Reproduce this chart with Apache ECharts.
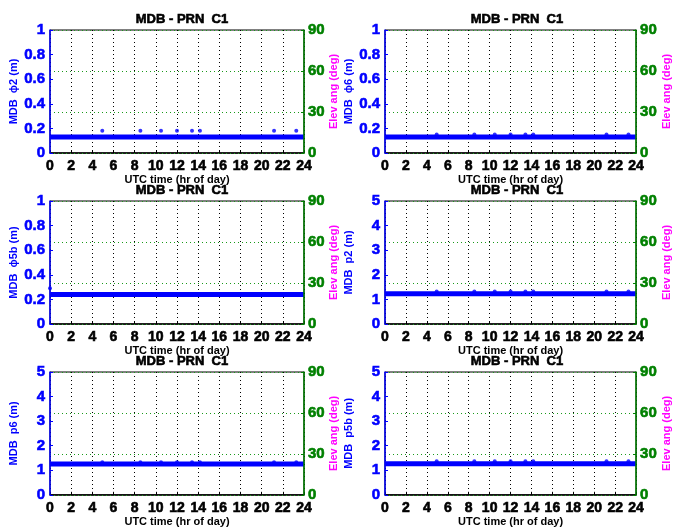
<!DOCTYPE html>
<html>
<head>
<meta charset="utf-8">
<script src="https://cdn.jsdelivr.net/npm/echarts@6/dist/echarts.min.js"></script>
<style>
  html, body { margin: 0; padding: 0; background: #ffffff; }
  #chart { width: 673px; height: 528px; }
</style>
</head>
<body>
<div id="chart"></div>
<script>
  // panel order: row by row, left then right
  var panelNames = ['MDB  \u03d52 (m)', 'MDB  \u03d56 (m)', 'MDB  \u03d55b (m)', 'MDB  p2 (m)', 'MDB  p6 (m)', 'MDB  p5b (m)'];
  var yMax = [1, 1, 1, 5, 5, 5];
  var yStep = [0.2, 0.2, 0.2, 1, 1, 1];
  var hourTicks = [0, 24, 2];
  var elevTicks = [0, 90, 30];

  // MDB level over the whole day (thick line)
  var baseLevel = [0.13, 0.13, 0.24, 1.23, 1.25, 1.26];

  // isolated epochs sitting above the line
  var dotHours = [4.94, 8.54, 10.49, 12.0, 13.42, 14.17, 21.17, 23.27];
  var phi2Dots = [0.18, 0.18, 0.18, 0.18, 0.18, 0.18, 0.18, 0.18];
  var phi6Dots = [0.15, 0.15, 0.15, 0.15, 0.15, 0.15, 0.15, 0.15];
  var phi5bDots = [[0, 0.29]];
  var p2Dots = [1.32, 1.32, 1.32, 1.32, 1.32, 1.32, 1.32, 1.32];
  var p6Dots = [1.33, 1.33, 1.33, 1.33, 1.33, 1.33, 1.33, 1.33];
  var p5bDots = [1.37, 1.37, 1.37, 1.37, 1.37, 1.37, 1.37, 1.37];

  function pairUp(vals) {
    return dotHours.map(function (h, i) { return [h, vals[i]]; });
  }
  var dotData = [pairUp(phi2Dots), pairUp(phi6Dots), phi5bDots, pairUp(p2Dots), pairUp(p6Dots), pairUp(p5bDots)];

  var lefts = [50, 385];
  var tops = [30, 201, 372];
  var plotW = 254, plotH = 123;
  var blue = '#0000ff', green = '#008000', magenta = '#ff00ff';
  var font = 'Liberation Sans, Arial, sans-serif';

  function heavy(size, color) {
    return { fontFamily: font, fontSize: size, fontWeight: 'bold', color: color,
             textBorderColor: color, textBorderWidth: 0.6 };
  }
  function plain(size, color) {
    return { fontFamily: font, fontSize: size, fontWeight: 'bold', color: color };
  }

  var grids = [], xAxes = [], yAxes = [], series = [], titles = [];

  for (var i = 0; i < 6; i++) {
    var col = i % 2, row = Math.floor(i / 2);
    grids.push({
      left: lefts[col], top: tops[row], width: plotW, height: plotH,
      show: true, borderColor: '#000', borderWidth: 1, backgroundColor: '#fff'
    });
    titles.push({
      text: 'MDB - PRN  C1',
      left: lefts[col] + plotW / 2, top: tops[row] - 22, textAlign: 'center',
      textStyle: heavy(13, '#000')
    });
    var xLab = heavy(14, '#000');
    xLab.margin = 6;
    xAxes.push({
      gridIndex: i, type: 'value',
      min: hourTicks[0], max: hourTicks[1], interval: hourTicks[2],
      name: 'UTC time (hr of day)', nameLocation: 'middle', nameGap: 20,
      nameTextStyle: plain(11, '#000'),
      axisLine: { lineStyle: { color: '#000', width: 1.5 } },
      axisTick: { inside: true, length: 3, lineStyle: { color: '#000' } },
      axisLabel: xLab,
      splitLine: { show: true, lineStyle: { color: '#000', type: [1, 3], width: 1 } }
    });
    var yLab = heavy(15, blue);
    yLab.margin = 5;
    yAxes.push({
      gridIndex: i, type: 'value', position: 'left',
      min: 0, max: yMax[i], interval: yStep[i],
      name: panelNames[i], nameLocation: 'middle', nameRotate: 90, nameGap: 31,
      nameTextStyle: plain(11, blue),
      axisLine: { show: true, lineStyle: { color: blue, width: 1.5 } },
      axisTick: { inside: true, length: 3, lineStyle: { color: blue } },
      axisLabel: yLab,
      splitLine: { show: false },
      z: 5
    });
    var eLab = heavy(15, green);
    eLab.margin = 4;
    yAxes.push({
      gridIndex: i, type: 'value', position: 'right',
      min: elevTicks[0], max: elevTicks[1], interval: elevTicks[2],
      name: 'Elev ang (deg)', nameLocation: 'middle', nameRotate: 90, nameGap: 24,
      nameTextStyle: plain(11, magenta),
      axisLine: { show: true, lineStyle: { color: green, width: 1.5 } },
      axisTick: { inside: true, length: 3, lineStyle: { color: green } },
      axisLabel: eLab,
      splitLine: { show: true, lineStyle: { color: '#1a9a1a', type: [1, 3], width: 1 } },
      z: 5
    });
    series.push({
      type: 'line', xAxisIndex: i, yAxisIndex: i * 2,
      data: [[hourTicks[0], baseLevel[i]], [hourTicks[1], baseLevel[i]]],
      showSymbol: false, symbol: 'none',
      lineStyle: { color: blue, width: 5 },
      animation: false, z: 3
    });
    series.push({
      type: 'scatter', xAxisIndex: i, yAxisIndex: i * 2,
      data: dotData[i], symbolSize: 4,
      itemStyle: { color: blue },
      animation: false, z: 3
    });
  }

  var chart = echarts.init(document.getElementById('chart'));
  chart.setOption({
    backgroundColor: '#fff',
    animation: false,
    title: titles,
    grid: grids,
    xAxis: xAxes,
    yAxis: yAxes,
    series: series
  });
</script>
</body>
</html>
